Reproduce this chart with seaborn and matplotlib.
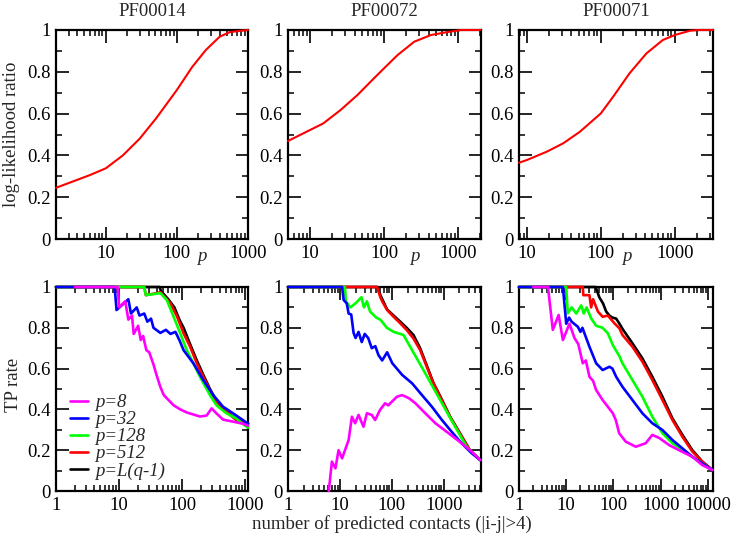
import matplotlib
matplotlib.use("Agg")
import matplotlib.pyplot as plt
import seaborn as sns
import pandas as pd
from matplotlib.ticker import FixedLocator, LogLocator, MultipleLocator, FuncFormatter, NullFormatter

# ---------------- data ----------------
titles = ["PF00014", "PF00072", "PF00071"]
series_labels = ["p=8", "p=32", "p=128", "p=512", "p=L(q-1)"]
series_colors = ["#ff00ff", "#0000ff", "#00ff00", "#ff0000", "#000000"]

# top row: log-likelihood ratio vs p
ll_pf00014_p = [2, 3.9, 6, 10, 17.4, 30, 51, 100, 165, 255, 400, 555, 1000]
ll_pf00014_v = [0.245, 0.282, 0.306, 0.338, 0.40, 0.48, 0.577, 0.713, 0.824, 0.904, 0.968, 0.99, 1.0]
ll_pf00072_p = [5, 10, 15, 25.7, 43.6, 73, 100, 152, 256, 430, 720, 1100, 2000]
ll_pf00072_v = [0.469, 0.522, 0.553, 0.617, 0.689, 0.769, 0.817, 0.88, 0.944, 0.976, 0.99, 1.0, 1.0]
ll_pf00071_p = [7.8, 10, 18.6, 31, 52, 100, 147, 245, 414, 690, 1000, 1630, 2200, 3300]
ll_pf00071_v = [0.365, 0.378, 0.418, 0.458, 0.513, 0.601, 0.681, 0.793, 0.888, 0.952, 0.976, 0.997, 1.0, 1.0]

# bottom row: TP rate vs number of predicted contacts
# PF00014
tp14_p8_x = [2, 9.5, 10, 12.5, 14, 16, 17, 20, 22, 24, 27, 30, 35, 39, 45, 51, 61, 73, 93, 118, 150, 191, 244, 291, 349, 443, 636, 910, 1100]
tp14_p8_y = [1, 1, 0.90, 0.93, 0.84, 0.86, 0.77, 0.81, 0.74, 0.76, 0.69, 0.68, 0.62, 0.57, 0.51, 0.47, 0.445, 0.42, 0.40, 0.385, 0.375, 0.365, 0.37, 0.405, 0.38, 0.35, 0.34, 0.33, 0.32]
tp14_p32_x = [1, 8.5, 9.1, 14, 15.4, 19, 21, 25, 28, 32, 35, 45, 55, 65, 78, 90, 105, 150, 215, 310, 443, 636, 910, 1100]
tp14_p32_y = [1, 1, 0.887, 0.94, 0.87, 0.90, 0.86, 0.87, 0.83, 0.845, 0.80, 0.775, 0.79, 0.77, 0.78, 0.74, 0.69, 0.626, 0.544, 0.47, 0.413, 0.381, 0.348, 0.33]
tp14_p128_x = [1, 25, 26.5, 45, 57, 73, 93, 118, 150, 191, 275, 349, 500, 715, 900, 1100]
tp14_p128_y = [1, 1, 0.96, 0.97, 0.936, 0.854, 0.773, 0.69, 0.626, 0.56, 0.47, 0.42, 0.381, 0.356, 0.33, 0.31]
tp14_p512_x = [1, 25, 26.5, 40, 45, 65, 83, 105, 133, 170, 215, 275, 349, 500, 715, 1100]
tp14_p512_y = [1, 1, 0.96, 0.97, 0.975, 0.92, 0.854, 0.773, 0.708, 0.626, 0.56, 0.495, 0.438, 0.39, 0.348, 0.33]
tp14_pL_x = [1, 44, 46, 60, 75, 90, 105, 133, 170, 215, 275, 349, 500, 715, 1100]
tp14_pL_y = [1, 1, 0.98, 0.94, 0.90, 0.84, 0.80, 0.72, 0.64, 0.57, 0.50, 0.44, 0.39, 0.35, 0.33]

# PF00072
tp72_p8_x = [6.1, 7.0, 8.2, 9.4, 11, 14.7, 17, 19.6, 22.8, 28.4, 33, 41, 47.6, 59, 74, 85, 125, 158, 213, 284, 440, 690, 1240, 2200, 3450, 5000]
tp72_p8_y = [0, 0.144, 0.111, 0.20, 0.16, 0.25, 0.364, 0.332, 0.373, 0.315, 0.381, 0.373, 0.348, 0.397, 0.43, 0.42, 0.462, 0.47, 0.455, 0.43, 0.381, 0.332, 0.283, 0.234, 0.193, 0.152]
tp72_p32_x = [1, 11, 11.8, 13.5, 14.7, 16.5, 18.3, 20, 22.8, 26.3, 30, 35, 41, 48, 55, 65, 81, 102, 158, 245, 380, 590, 920, 1420, 2200, 3450, 5000]
tp72_p32_y = [1, 1, 0.936, 0.92, 0.87, 0.865, 0.775, 0.75, 0.78, 0.73, 0.77, 0.75, 0.70, 0.71, 0.667, 0.64, 0.68, 0.626, 0.569, 0.528, 0.47, 0.413, 0.348, 0.29, 0.234, 0.185, 0.152]
tp72_p128_x = [1, 12.5, 13, 15.8, 20, 26, 29, 33, 38, 50, 60, 80, 108, 167, 225, 405, 850, 1520, 2740, 5000]
tp72_p128_y = [1, 1, 0.93, 0.90, 0.92, 0.95, 0.90, 0.93, 0.88, 0.85, 0.84, 0.80, 0.78, 0.765, 0.707, 0.593, 0.446, 0.332, 0.217, 0.152]
tp72_p512_x = [1, 52, 60, 65, 81, 108, 145, 193, 260, 350, 470, 630, 850, 1310, 2030, 3170, 5000]
tp72_p512_y = [1, 1, 0.95, 0.93, 0.887, 0.854, 0.822, 0.789, 0.748, 0.691, 0.609, 0.528, 0.462, 0.364, 0.283, 0.20, 0.152]
tp72_pL_x = [1, 52, 60, 81, 108, 145, 193, 260, 350, 470, 630, 850, 1310, 2030, 3170, 5000]
tp72_pL_y = [1, 1, 0.96, 0.89, 0.86, 0.83, 0.80, 0.765, 0.70, 0.615, 0.53, 0.465, 0.366, 0.284, 0.20, 0.152]

# PF00071
tp71_p8_x = [2, 4.1, 5.2, 6.9, 8.5, 11.7, 15, 18, 22.4, 26, 31, 37, 43, 59, 76, 97, 112, 132, 182, 297, 480, 665, 930, 1510, 2450, 4680, 7600, 12400]
tp71_p8_y = [1, 1, 0.79, 0.863, 0.74, 0.82, 0.749, 0.72, 0.626, 0.64, 0.56, 0.54, 0.495, 0.446, 0.413, 0.381, 0.348, 0.283, 0.242, 0.217, 0.234, 0.275, 0.26, 0.225, 0.20, 0.168, 0.127, 0.103]
tp71_p32_x = [1, 8.5, 10, 11.5, 13, 17.6, 20, 22, 31, 43, 59, 82, 95, 114, 155, 252, 410, 665, 1090, 1770, 2880, 4680, 7600, 12400]
tp71_p32_y = [1, 1, 0.82, 0.85, 0.83, 0.805, 0.78, 0.80, 0.707, 0.626, 0.593, 0.609, 0.60, 0.56, 0.511, 0.446, 0.381, 0.332, 0.299, 0.25, 0.209, 0.168, 0.135, 0.103]
tp71_p128_x = [1, 10, 10.8, 13, 16.3, 20.8, 23.5, 27, 33.7, 43, 59, 76, 97, 134, 155, 252, 410, 665, 1090, 1770, 2880, 4680, 7600, 12400]
tp71_p128_y = [1, 1, 0.871, 0.90, 0.87, 0.91, 0.87, 0.90, 0.846, 0.81, 0.80, 0.773, 0.715, 0.66, 0.626, 0.544, 0.462, 0.364, 0.283, 0.234, 0.20, 0.168, 0.135, 0.103]
tp71_p512_x = [1, 22.4, 23, 31, 33.7, 37, 47, 59, 76, 105, 134, 155, 252, 410, 665, 1090, 1770, 2880, 4680, 7600, 12400]
tp71_p512_y = [1, 1, 0.96, 0.96, 0.90, 0.94, 0.879, 0.854, 0.86, 0.822, 0.797, 0.765, 0.707, 0.634, 0.544, 0.446, 0.348, 0.266, 0.193, 0.144, 0.103]
tp71_pL_x = [1, 42, 50, 60, 70, 82, 95, 114, 134, 155, 252, 410, 665, 1090, 1770, 2880, 4680, 7600, 12400]
tp71_pL_y = [1, 1, 0.95, 0.92, 0.88, 0.86, 0.85, 0.845, 0.82, 0.795, 0.724, 0.65, 0.56, 0.462, 0.356, 0.275, 0.20, 0.144, 0.103]

top_xlims = [(2, 1000), (5, 2050), (7.8, 3300)]
bot_xlims = [(1, 1100), (1, 5200), (1, 12800)]

# ---------------- style ----------------
sns.set_theme(style="white")
plt.rcParams["font.family"] = ["Liberation Serif", "DejaVu Serif"]
FS = 13.5

W, H = 734, 540
fig = plt.figure(figsize=(W / 100, H / 100), dpi=100)
fig.patch.set_facecolor("white")

cols = [(56, 248), (288, 481), (519, 713)]
rows = [(30, 239), (287, 491)]


def make_ax(col, row):
    l, r = cols[col]
    t, b = rows[row]
    ax = fig.add_axes([l / W, 1 - b / H, (r - l) / W, (b - t) / H])
    ax.set_facecolor("white")
    return ax


def style_ax(ax, xlim, majors):
    ax.set_xscale("log")
    ax.set_xlim(*xlim)
    ax.set_ylim(0, 1)
    ax.xaxis.set_major_locator(FixedLocator(majors))
    ax.xaxis.set_minor_locator(LogLocator(base=10, subs=range(2, 10), numticks=20))
    ax.xaxis.set_major_formatter(FuncFormatter(lambda v, p: "%d" % round(v)))
    ax.xaxis.set_minor_formatter(NullFormatter())
    ax.yaxis.set_major_locator(MultipleLocator(0.2))
    ax.yaxis.set_minor_locator(MultipleLocator(0.1))
    ax.yaxis.set_major_formatter(FuncFormatter(lambda v, p: "%g" % round(v, 1)))
    ax.tick_params(which="both", direction="in", top=True, right=True,
                   bottom=True, left=True, colors="black", labelsize=FS)
    ax.tick_params(which="major", length=9, width=1.2, pad=4)
    ax.tick_params(which="minor", length=4.5, width=1.1)
    for s in ax.spines.values():
        s.set_color("black")
        s.set_linewidth(1.6)
    ax.set_xlabel("")
    ax.set_ylabel("")


ll_data = [(ll_pf00014_p, ll_pf00014_v), (ll_pf00072_p, ll_pf00072_v), (ll_pf00071_p, ll_pf00071_v)]
top_majors = [[10, 100, 1000], [10, 100, 1000], [10, 100, 1000]]
p_label_x = [201.7, 415, 626.7]

for i in range(3):
    ax = make_ax(i, 0)
    df = pd.DataFrame({"p": ll_data[i][0], "ratio": ll_data[i][1]})
    sns.lineplot(data=df, x="p", y="ratio", ax=ax, color="#ff0000", lw=1.5,
                 estimator=None, sort=False, clip_on=False, zorder=3)
    style_ax(ax, top_xlims[i], top_majors[i])
    fig.text(p_label_x[i] / W, 1 - 257 / H, "p", style="italic", fontsize=FS,
             ha="center", va="center")
    fig.text((cols[i][0] + cols[i][1]) / 2 / W, 1 - 11 / H, titles[i], fontsize=FS,
             ha="center", va="center")

tp_data = [
    [(tp14_p8_x, tp14_p8_y), (tp14_p32_x, tp14_p32_y), (tp14_p128_x, tp14_p128_y),
     (tp14_p512_x, tp14_p512_y), (tp14_pL_x, tp14_pL_y)],
    [(tp72_p8_x, tp72_p8_y), (tp72_p32_x, tp72_p32_y), (tp72_p128_x, tp72_p128_y),
     (tp72_p512_x, tp72_p512_y), (tp72_pL_x, tp72_pL_y)],
    [(tp71_p8_x, tp71_p8_y), (tp71_p32_x, tp71_p32_y), (tp71_p128_x, tp71_p128_y),
     (tp71_p512_x, tp71_p512_y), (tp71_pL_x, tp71_pL_y)],
]
bot_majors = [[1, 10, 100, 1000], [1, 10, 100, 1000], [1, 10, 100, 1000, 10000]]

for i in range(3):
    ax = make_ax(i, 1)
    # draw black first, magenta last (on top)
    for k in reversed(range(5)):
        xs, ys = tp_data[i][k]
        df = pd.DataFrame({"n": xs, "tp": ys})
        sns.lineplot(data=df, x="n", y="tp", ax=ax, color=series_colors[k], lw=1.9,
                     estimator=None, sort=False, clip_on=False, zorder=3,
                     label=series_labels[k])
    style_ax(ax, bot_xlims[i], bot_majors[i])
    h, lab = ax.get_legend_handles_labels()
    if i == 0:
        leg = ax.legend(h[::-1], lab[::-1], loc="lower left",
                        bbox_to_anchor=(0.075, 0.055), frameon=False,
                        prop=dict(family="Liberation Serif", style="italic", size=FS),
                        handlelength=0.95, handletextpad=0.35, labelspacing=0.0,
                        borderpad=0.0, borderaxespad=0.0)
    else:
        lg = ax.get_legend()
        if lg is not None:
            lg.remove()

fig.text(12 / W, 1 - 134 / H, "log-likelihood ratio", rotation=90, fontsize=FS,
         ha="center", va="center")
fig.text(14 / W, 1 - 385 / H, "TP rate", rotation=90, fontsize=FS,
         ha="center", va="center")
fig.text(392 / W, 1 - 524 / H, "number of predicted contacts (|i-j|>4)", fontsize=FS,
         ha="center", va="center")

fig.savefig("out.png", dpi=100, facecolor="white")
